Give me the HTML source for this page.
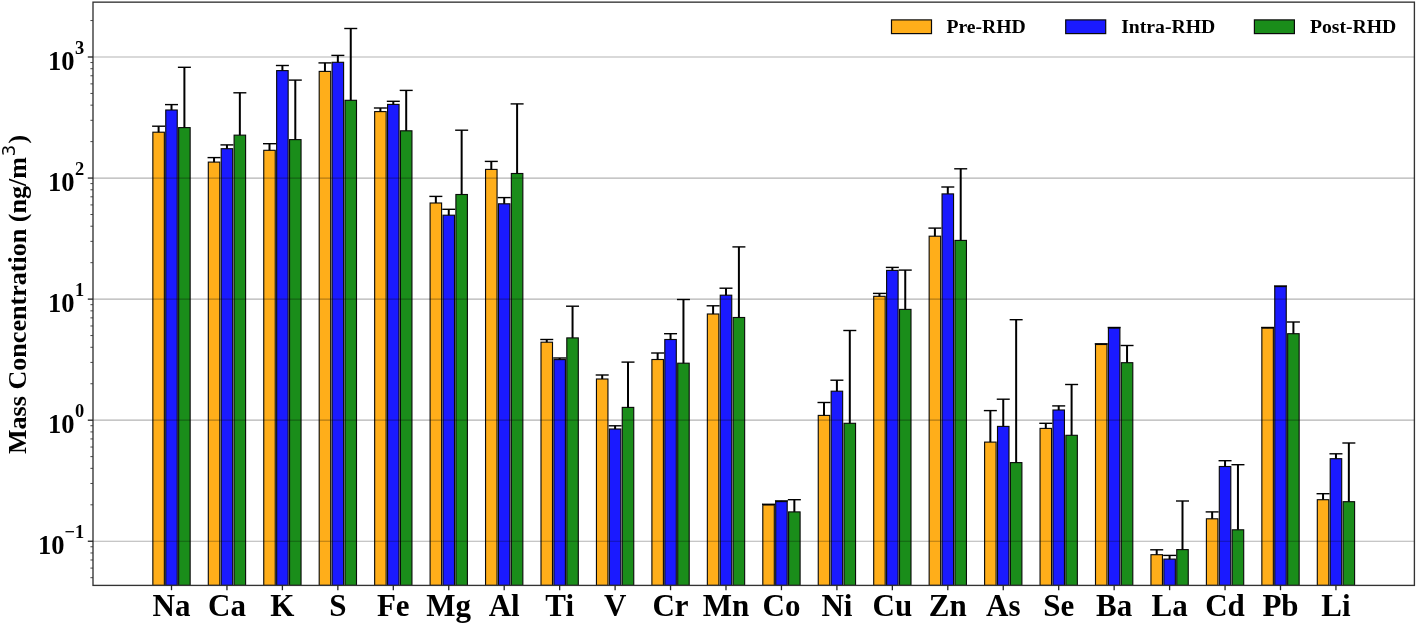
<!DOCTYPE html>
<html><head><meta charset="utf-8"><title>Mass Concentration</title>
<style>html,body{margin:0;padding:0;background:#fff;}svg{display:block;}</style></head>
<body>
<svg width="1416" height="624" viewBox="0 0 1416 624" font-family="'Liberation Serif', 'Times New Roman', serif" font-weight="bold" fill="#000">
<rect x="0" y="0" width="1416" height="624" fill="#fff"/>
<g stroke="#0a0a0a" stroke-width="1.12">
<rect x="152.85" y="132.20" width="11.5" height="453.20" fill="#FFAE1A"/>
<rect x="165.75" y="110.00" width="11.5" height="475.40" fill="#1A1AFF"/>
<rect x="178.65" y="127.60" width="11.5" height="457.80" fill="#1A8D1A"/>
<rect x="208.30" y="162.10" width="11.5" height="423.30" fill="#FFAE1A"/>
<rect x="221.20" y="148.70" width="11.5" height="436.70" fill="#1A1AFF"/>
<rect x="234.10" y="135.15" width="11.5" height="450.25" fill="#1A8D1A"/>
<rect x="263.75" y="150.30" width="11.5" height="435.10" fill="#FFAE1A"/>
<rect x="276.65" y="70.60" width="11.5" height="514.80" fill="#1A1AFF"/>
<rect x="289.55" y="139.60" width="11.5" height="445.80" fill="#1A8D1A"/>
<rect x="319.20" y="71.40" width="11.5" height="514.00" fill="#FFAE1A"/>
<rect x="332.10" y="62.30" width="11.5" height="523.10" fill="#1A1AFF"/>
<rect x="345.00" y="100.30" width="11.5" height="485.10" fill="#1A8D1A"/>
<rect x="374.65" y="111.60" width="11.5" height="473.80" fill="#FFAE1A"/>
<rect x="387.55" y="104.40" width="11.5" height="481.00" fill="#1A1AFF"/>
<rect x="400.45" y="130.80" width="11.5" height="454.60" fill="#1A8D1A"/>
<rect x="430.10" y="203.00" width="11.5" height="382.40" fill="#FFAE1A"/>
<rect x="443.00" y="215.20" width="11.5" height="370.20" fill="#1A1AFF"/>
<rect x="455.90" y="194.50" width="11.5" height="390.90" fill="#1A8D1A"/>
<rect x="485.55" y="169.40" width="11.5" height="416.00" fill="#FFAE1A"/>
<rect x="498.45" y="203.80" width="11.5" height="381.60" fill="#1A1AFF"/>
<rect x="511.35" y="173.50" width="11.5" height="411.90" fill="#1A8D1A"/>
<rect x="541.00" y="342.20" width="11.5" height="243.20" fill="#FFAE1A"/>
<rect x="553.90" y="359.60" width="11.5" height="225.80" fill="#1A1AFF"/>
<rect x="566.80" y="337.90" width="11.5" height="247.50" fill="#1A8D1A"/>
<rect x="596.45" y="379.00" width="11.5" height="206.40" fill="#FFAE1A"/>
<rect x="609.35" y="429.00" width="11.5" height="156.40" fill="#1A1AFF"/>
<rect x="622.25" y="407.40" width="11.5" height="178.00" fill="#1A8D1A"/>
<rect x="651.90" y="359.50" width="11.5" height="225.90" fill="#FFAE1A"/>
<rect x="664.80" y="339.50" width="11.5" height="245.90" fill="#1A1AFF"/>
<rect x="677.70" y="363.20" width="11.5" height="222.20" fill="#1A8D1A"/>
<rect x="707.35" y="314.00" width="11.5" height="271.40" fill="#FFAE1A"/>
<rect x="720.25" y="295.20" width="11.5" height="290.20" fill="#1A1AFF"/>
<rect x="733.15" y="317.50" width="11.5" height="267.90" fill="#1A8D1A"/>
<rect x="762.80" y="505.00" width="11.5" height="80.40" fill="#FFAE1A"/>
<rect x="775.70" y="501.60" width="11.5" height="83.80" fill="#1A1AFF"/>
<rect x="788.60" y="511.90" width="11.5" height="73.50" fill="#1A8D1A"/>
<rect x="818.25" y="415.40" width="11.5" height="170.00" fill="#FFAE1A"/>
<rect x="831.15" y="391.20" width="11.5" height="194.20" fill="#1A1AFF"/>
<rect x="844.05" y="423.30" width="11.5" height="162.10" fill="#1A8D1A"/>
<rect x="873.70" y="296.30" width="11.5" height="289.10" fill="#FFAE1A"/>
<rect x="886.60" y="270.40" width="11.5" height="315.00" fill="#1A1AFF"/>
<rect x="899.50" y="309.40" width="11.5" height="276.00" fill="#1A8D1A"/>
<rect x="929.15" y="236.20" width="11.5" height="349.20" fill="#FFAE1A"/>
<rect x="942.05" y="193.90" width="11.5" height="391.50" fill="#1A1AFF"/>
<rect x="954.95" y="240.40" width="11.5" height="345.00" fill="#1A8D1A"/>
<rect x="984.60" y="442.10" width="11.5" height="143.30" fill="#FFAE1A"/>
<rect x="997.50" y="426.40" width="11.5" height="159.00" fill="#1A1AFF"/>
<rect x="1010.40" y="462.60" width="11.5" height="122.80" fill="#1A8D1A"/>
<rect x="1040.05" y="428.40" width="11.5" height="157.00" fill="#FFAE1A"/>
<rect x="1052.95" y="410.00" width="11.5" height="175.40" fill="#1A1AFF"/>
<rect x="1065.85" y="435.30" width="11.5" height="150.10" fill="#1A8D1A"/>
<rect x="1095.50" y="344.50" width="11.5" height="240.90" fill="#FFAE1A"/>
<rect x="1108.40" y="328.10" width="11.5" height="257.30" fill="#1A1AFF"/>
<rect x="1121.30" y="362.70" width="11.5" height="222.70" fill="#1A8D1A"/>
<rect x="1150.95" y="554.70" width="11.5" height="30.70" fill="#FFAE1A"/>
<rect x="1163.85" y="559.10" width="11.5" height="26.30" fill="#1A1AFF"/>
<rect x="1176.75" y="549.60" width="11.5" height="35.80" fill="#1A8D1A"/>
<rect x="1206.40" y="518.80" width="11.5" height="66.60" fill="#FFAE1A"/>
<rect x="1219.30" y="466.50" width="11.5" height="118.90" fill="#1A1AFF"/>
<rect x="1232.20" y="529.80" width="11.5" height="55.60" fill="#1A8D1A"/>
<rect x="1261.85" y="328.10" width="11.5" height="257.30" fill="#FFAE1A"/>
<rect x="1274.75" y="286.60" width="11.5" height="298.80" fill="#1A1AFF"/>
<rect x="1287.65" y="333.70" width="11.5" height="251.70" fill="#1A8D1A"/>
<rect x="1317.30" y="499.70" width="11.5" height="85.70" fill="#FFAE1A"/>
<rect x="1330.20" y="458.70" width="11.5" height="126.70" fill="#1A1AFF"/>
<rect x="1343.10" y="501.70" width="11.5" height="83.70" fill="#1A8D1A"/>
</g>
<g stroke="#000" fill="none">
<line x1="158.60" y1="132.20" x2="158.60" y2="126.20" stroke-width="2"/>
<line x1="152.10" y1="126.20" x2="165.10" y2="126.20" stroke-width="1.4"/>
<line x1="171.50" y1="110.00" x2="171.50" y2="104.60" stroke-width="2"/>
<line x1="165.00" y1="104.60" x2="178.00" y2="104.60" stroke-width="1.4"/>
<line x1="184.40" y1="127.60" x2="184.40" y2="67.30" stroke-width="2"/>
<line x1="177.90" y1="67.30" x2="190.90" y2="67.30" stroke-width="1.4"/>
<line x1="214.05" y1="162.10" x2="214.05" y2="157.60" stroke-width="2"/>
<line x1="207.55" y1="157.60" x2="220.55" y2="157.60" stroke-width="1.4"/>
<line x1="226.95" y1="148.70" x2="226.95" y2="144.90" stroke-width="2"/>
<line x1="220.45" y1="144.90" x2="233.45" y2="144.90" stroke-width="1.4"/>
<line x1="239.85" y1="135.15" x2="239.85" y2="92.80" stroke-width="2"/>
<line x1="233.35" y1="92.80" x2="246.35" y2="92.80" stroke-width="1.4"/>
<line x1="269.50" y1="150.30" x2="269.50" y2="143.70" stroke-width="2"/>
<line x1="263.00" y1="143.70" x2="276.00" y2="143.70" stroke-width="1.4"/>
<line x1="282.40" y1="70.60" x2="282.40" y2="65.50" stroke-width="2"/>
<line x1="275.90" y1="65.50" x2="288.90" y2="65.50" stroke-width="1.4"/>
<line x1="295.30" y1="139.60" x2="295.30" y2="80.10" stroke-width="2"/>
<line x1="288.80" y1="80.10" x2="301.80" y2="80.10" stroke-width="1.4"/>
<line x1="324.95" y1="71.40" x2="324.95" y2="62.90" stroke-width="2"/>
<line x1="318.45" y1="62.90" x2="331.45" y2="62.90" stroke-width="1.4"/>
<line x1="337.85" y1="62.30" x2="337.85" y2="55.40" stroke-width="2"/>
<line x1="331.35" y1="55.40" x2="344.35" y2="55.40" stroke-width="1.4"/>
<line x1="350.75" y1="100.30" x2="350.75" y2="28.50" stroke-width="2"/>
<line x1="344.25" y1="28.50" x2="357.25" y2="28.50" stroke-width="1.4"/>
<line x1="380.40" y1="111.60" x2="380.40" y2="108.00" stroke-width="2"/>
<line x1="373.90" y1="108.00" x2="386.90" y2="108.00" stroke-width="1.4"/>
<line x1="393.30" y1="104.40" x2="393.30" y2="101.30" stroke-width="2"/>
<line x1="386.80" y1="101.30" x2="399.80" y2="101.30" stroke-width="1.4"/>
<line x1="406.20" y1="130.80" x2="406.20" y2="90.40" stroke-width="2"/>
<line x1="399.70" y1="90.40" x2="412.70" y2="90.40" stroke-width="1.4"/>
<line x1="435.85" y1="203.00" x2="435.85" y2="196.40" stroke-width="2"/>
<line x1="429.35" y1="196.40" x2="442.35" y2="196.40" stroke-width="1.4"/>
<line x1="448.75" y1="215.20" x2="448.75" y2="209.30" stroke-width="2"/>
<line x1="442.25" y1="209.30" x2="455.25" y2="209.30" stroke-width="1.4"/>
<line x1="461.65" y1="194.50" x2="461.65" y2="130.20" stroke-width="2"/>
<line x1="455.15" y1="130.20" x2="468.15" y2="130.20" stroke-width="1.4"/>
<line x1="491.30" y1="169.40" x2="491.30" y2="161.40" stroke-width="2"/>
<line x1="484.80" y1="161.40" x2="497.80" y2="161.40" stroke-width="1.4"/>
<line x1="504.20" y1="203.80" x2="504.20" y2="197.60" stroke-width="2"/>
<line x1="497.70" y1="197.60" x2="510.70" y2="197.60" stroke-width="1.4"/>
<line x1="517.10" y1="173.50" x2="517.10" y2="103.90" stroke-width="2"/>
<line x1="510.60" y1="103.90" x2="523.60" y2="103.90" stroke-width="1.4"/>
<line x1="546.75" y1="342.20" x2="546.75" y2="339.50" stroke-width="2"/>
<line x1="540.25" y1="339.50" x2="553.25" y2="339.50" stroke-width="1.4"/>
<line x1="559.65" y1="359.60" x2="559.65" y2="358.00" stroke-width="2"/>
<line x1="553.15" y1="358.00" x2="566.15" y2="358.00" stroke-width="1.4"/>
<line x1="572.55" y1="337.90" x2="572.55" y2="306.20" stroke-width="2"/>
<line x1="566.05" y1="306.20" x2="579.05" y2="306.20" stroke-width="1.4"/>
<line x1="602.20" y1="379.00" x2="602.20" y2="375.00" stroke-width="2"/>
<line x1="595.70" y1="375.00" x2="608.70" y2="375.00" stroke-width="1.4"/>
<line x1="615.10" y1="429.00" x2="615.10" y2="425.80" stroke-width="2"/>
<line x1="608.60" y1="425.80" x2="621.60" y2="425.80" stroke-width="1.4"/>
<line x1="628.00" y1="407.40" x2="628.00" y2="362.10" stroke-width="2"/>
<line x1="621.50" y1="362.10" x2="634.50" y2="362.10" stroke-width="1.4"/>
<line x1="657.65" y1="359.50" x2="657.65" y2="353.00" stroke-width="2"/>
<line x1="651.15" y1="353.00" x2="664.15" y2="353.00" stroke-width="1.4"/>
<line x1="670.55" y1="339.50" x2="670.55" y2="333.70" stroke-width="2"/>
<line x1="664.05" y1="333.70" x2="677.05" y2="333.70" stroke-width="1.4"/>
<line x1="683.45" y1="363.20" x2="683.45" y2="299.50" stroke-width="2"/>
<line x1="676.95" y1="299.50" x2="689.95" y2="299.50" stroke-width="1.4"/>
<line x1="713.10" y1="314.00" x2="713.10" y2="305.80" stroke-width="2"/>
<line x1="706.60" y1="305.80" x2="719.60" y2="305.80" stroke-width="1.4"/>
<line x1="726.00" y1="295.20" x2="726.00" y2="288.20" stroke-width="2"/>
<line x1="719.50" y1="288.20" x2="732.50" y2="288.20" stroke-width="1.4"/>
<line x1="738.90" y1="317.50" x2="738.90" y2="246.90" stroke-width="2"/>
<line x1="732.40" y1="246.90" x2="745.40" y2="246.90" stroke-width="1.4"/>
<line x1="768.55" y1="505.00" x2="768.55" y2="504.30" stroke-width="2"/>
<line x1="762.05" y1="504.30" x2="775.05" y2="504.30" stroke-width="1.4"/>
<line x1="781.45" y1="501.60" x2="781.45" y2="500.90" stroke-width="2"/>
<line x1="774.95" y1="500.90" x2="787.95" y2="500.90" stroke-width="1.4"/>
<line x1="794.35" y1="511.90" x2="794.35" y2="499.70" stroke-width="2"/>
<line x1="787.85" y1="499.70" x2="800.85" y2="499.70" stroke-width="1.4"/>
<line x1="824.00" y1="415.40" x2="824.00" y2="402.50" stroke-width="2"/>
<line x1="817.50" y1="402.50" x2="830.50" y2="402.50" stroke-width="1.4"/>
<line x1="836.90" y1="391.20" x2="836.90" y2="380.20" stroke-width="2"/>
<line x1="830.40" y1="380.20" x2="843.40" y2="380.20" stroke-width="1.4"/>
<line x1="849.80" y1="423.30" x2="849.80" y2="330.50" stroke-width="2"/>
<line x1="843.30" y1="330.50" x2="856.30" y2="330.50" stroke-width="1.4"/>
<line x1="879.45" y1="296.30" x2="879.45" y2="293.40" stroke-width="2"/>
<line x1="872.95" y1="293.40" x2="885.95" y2="293.40" stroke-width="1.4"/>
<line x1="892.35" y1="270.40" x2="892.35" y2="267.40" stroke-width="2"/>
<line x1="885.85" y1="267.40" x2="898.85" y2="267.40" stroke-width="1.4"/>
<line x1="905.25" y1="309.40" x2="905.25" y2="270.10" stroke-width="2"/>
<line x1="898.75" y1="270.10" x2="911.75" y2="270.10" stroke-width="1.4"/>
<line x1="934.90" y1="236.20" x2="934.90" y2="228.10" stroke-width="2"/>
<line x1="928.40" y1="228.10" x2="941.40" y2="228.10" stroke-width="1.4"/>
<line x1="947.80" y1="193.90" x2="947.80" y2="187.00" stroke-width="2"/>
<line x1="941.30" y1="187.00" x2="954.30" y2="187.00" stroke-width="1.4"/>
<line x1="960.70" y1="240.40" x2="960.70" y2="168.80" stroke-width="2"/>
<line x1="954.20" y1="168.80" x2="967.20" y2="168.80" stroke-width="1.4"/>
<line x1="990.35" y1="442.10" x2="990.35" y2="410.60" stroke-width="2"/>
<line x1="983.85" y1="410.60" x2="996.85" y2="410.60" stroke-width="1.4"/>
<line x1="1003.25" y1="426.40" x2="1003.25" y2="399.20" stroke-width="2"/>
<line x1="996.75" y1="399.20" x2="1009.75" y2="399.20" stroke-width="1.4"/>
<line x1="1016.15" y1="462.60" x2="1016.15" y2="319.70" stroke-width="2"/>
<line x1="1009.65" y1="319.70" x2="1022.65" y2="319.70" stroke-width="1.4"/>
<line x1="1045.80" y1="428.40" x2="1045.80" y2="423.30" stroke-width="2"/>
<line x1="1039.30" y1="423.30" x2="1052.30" y2="423.30" stroke-width="1.4"/>
<line x1="1058.70" y1="410.00" x2="1058.70" y2="405.90" stroke-width="2"/>
<line x1="1052.20" y1="405.90" x2="1065.20" y2="405.90" stroke-width="1.4"/>
<line x1="1071.60" y1="435.30" x2="1071.60" y2="384.50" stroke-width="2"/>
<line x1="1065.10" y1="384.50" x2="1078.10" y2="384.50" stroke-width="1.4"/>
<line x1="1101.25" y1="344.50" x2="1101.25" y2="343.80" stroke-width="2"/>
<line x1="1094.75" y1="343.80" x2="1107.75" y2="343.80" stroke-width="1.4"/>
<line x1="1114.15" y1="328.10" x2="1114.15" y2="327.50" stroke-width="2"/>
<line x1="1107.65" y1="327.50" x2="1120.65" y2="327.50" stroke-width="1.4"/>
<line x1="1127.05" y1="362.70" x2="1127.05" y2="345.50" stroke-width="2"/>
<line x1="1120.55" y1="345.50" x2="1133.55" y2="345.50" stroke-width="1.4"/>
<line x1="1156.70" y1="554.70" x2="1156.70" y2="549.80" stroke-width="2"/>
<line x1="1150.20" y1="549.80" x2="1163.20" y2="549.80" stroke-width="1.4"/>
<line x1="1169.60" y1="559.10" x2="1169.60" y2="555.40" stroke-width="2"/>
<line x1="1163.10" y1="555.40" x2="1176.10" y2="555.40" stroke-width="1.4"/>
<line x1="1182.50" y1="549.60" x2="1182.50" y2="501.00" stroke-width="2"/>
<line x1="1176.00" y1="501.00" x2="1189.00" y2="501.00" stroke-width="1.4"/>
<line x1="1212.15" y1="518.80" x2="1212.15" y2="511.90" stroke-width="2"/>
<line x1="1205.65" y1="511.90" x2="1218.65" y2="511.90" stroke-width="1.4"/>
<line x1="1225.05" y1="466.50" x2="1225.05" y2="460.70" stroke-width="2"/>
<line x1="1218.55" y1="460.70" x2="1231.55" y2="460.70" stroke-width="1.4"/>
<line x1="1237.95" y1="529.80" x2="1237.95" y2="464.70" stroke-width="2"/>
<line x1="1231.45" y1="464.70" x2="1244.45" y2="464.70" stroke-width="1.4"/>
<line x1="1267.60" y1="328.10" x2="1267.60" y2="327.50" stroke-width="2"/>
<line x1="1261.10" y1="327.50" x2="1274.10" y2="327.50" stroke-width="1.4"/>
<line x1="1280.50" y1="286.60" x2="1280.50" y2="286.00" stroke-width="2"/>
<line x1="1274.00" y1="286.00" x2="1287.00" y2="286.00" stroke-width="1.4"/>
<line x1="1293.40" y1="333.70" x2="1293.40" y2="322.00" stroke-width="2"/>
<line x1="1286.90" y1="322.00" x2="1299.90" y2="322.00" stroke-width="1.4"/>
<line x1="1323.05" y1="499.70" x2="1323.05" y2="493.70" stroke-width="2"/>
<line x1="1316.55" y1="493.70" x2="1329.55" y2="493.70" stroke-width="1.4"/>
<line x1="1335.95" y1="458.70" x2="1335.95" y2="453.80" stroke-width="2"/>
<line x1="1329.45" y1="453.80" x2="1342.45" y2="453.80" stroke-width="1.4"/>
<line x1="1348.85" y1="501.70" x2="1348.85" y2="443.00" stroke-width="2"/>
<line x1="1342.35" y1="443.00" x2="1355.35" y2="443.00" stroke-width="1.4"/>
</g>
<g stroke="#000" stroke-opacity="0.3" stroke-width="1.2">
<line x1="93.0" y1="57.00" x2="1414.4" y2="57.00"/>
<line x1="93.0" y1="178.06" x2="1414.4" y2="178.06"/>
<line x1="93.0" y1="299.12" x2="1414.4" y2="299.12"/>
<line x1="93.0" y1="420.18" x2="1414.4" y2="420.18"/>
<line x1="93.0" y1="541.24" x2="1414.4" y2="541.24"/>
</g>
<rect x="93.0" y="2.15" width="1321.40" height="583.25" fill="none" stroke="#333" stroke-width="1.35"/>
<g stroke="#222" stroke-width="1.3">
<line x1="87.8" y1="57.00" x2="93.0" y2="57.00"/>
<line x1="87.8" y1="178.06" x2="93.0" y2="178.06"/>
<line x1="87.8" y1="299.12" x2="93.0" y2="299.12"/>
<line x1="87.8" y1="420.18" x2="93.0" y2="420.18"/>
<line x1="87.8" y1="541.24" x2="93.0" y2="541.24"/>
</g><g stroke="#333" stroke-width="0.9">
<line x1="90.4" y1="20.56" x2="93.0" y2="20.56"/>
<line x1="90.4" y1="141.62" x2="93.0" y2="141.62"/>
<line x1="90.4" y1="120.30" x2="93.0" y2="120.30"/>
<line x1="90.4" y1="105.17" x2="93.0" y2="105.17"/>
<line x1="90.4" y1="93.44" x2="93.0" y2="93.44"/>
<line x1="90.4" y1="83.86" x2="93.0" y2="83.86"/>
<line x1="90.4" y1="75.75" x2="93.0" y2="75.75"/>
<line x1="90.4" y1="68.73" x2="93.0" y2="68.73"/>
<line x1="90.4" y1="62.54" x2="93.0" y2="62.54"/>
<line x1="90.4" y1="262.68" x2="93.0" y2="262.68"/>
<line x1="90.4" y1="241.36" x2="93.0" y2="241.36"/>
<line x1="90.4" y1="226.23" x2="93.0" y2="226.23"/>
<line x1="90.4" y1="214.50" x2="93.0" y2="214.50"/>
<line x1="90.4" y1="204.92" x2="93.0" y2="204.92"/>
<line x1="90.4" y1="196.81" x2="93.0" y2="196.81"/>
<line x1="90.4" y1="189.79" x2="93.0" y2="189.79"/>
<line x1="90.4" y1="183.60" x2="93.0" y2="183.60"/>
<line x1="90.4" y1="383.74" x2="93.0" y2="383.74"/>
<line x1="90.4" y1="362.42" x2="93.0" y2="362.42"/>
<line x1="90.4" y1="347.29" x2="93.0" y2="347.29"/>
<line x1="90.4" y1="335.56" x2="93.0" y2="335.56"/>
<line x1="90.4" y1="325.98" x2="93.0" y2="325.98"/>
<line x1="90.4" y1="317.87" x2="93.0" y2="317.87"/>
<line x1="90.4" y1="310.85" x2="93.0" y2="310.85"/>
<line x1="90.4" y1="304.66" x2="93.0" y2="304.66"/>
<line x1="90.4" y1="504.80" x2="93.0" y2="504.80"/>
<line x1="90.4" y1="483.48" x2="93.0" y2="483.48"/>
<line x1="90.4" y1="468.35" x2="93.0" y2="468.35"/>
<line x1="90.4" y1="456.62" x2="93.0" y2="456.62"/>
<line x1="90.4" y1="447.04" x2="93.0" y2="447.04"/>
<line x1="90.4" y1="438.93" x2="93.0" y2="438.93"/>
<line x1="90.4" y1="431.91" x2="93.0" y2="431.91"/>
<line x1="90.4" y1="425.72" x2="93.0" y2="425.72"/>
<line x1="90.4" y1="577.68" x2="93.0" y2="577.68"/>
<line x1="90.4" y1="568.10" x2="93.0" y2="568.10"/>
<line x1="90.4" y1="559.99" x2="93.0" y2="559.99"/>
<line x1="90.4" y1="552.97" x2="93.0" y2="552.97"/>
<line x1="90.4" y1="546.78" x2="93.0" y2="546.78"/>
</g><g stroke="#222" stroke-width="1.3">
<line x1="171.50" y1="585.4" x2="171.50" y2="590.1999999999999"/>
<line x1="226.95" y1="585.4" x2="226.95" y2="590.1999999999999"/>
<line x1="282.40" y1="585.4" x2="282.40" y2="590.1999999999999"/>
<line x1="337.85" y1="585.4" x2="337.85" y2="590.1999999999999"/>
<line x1="393.30" y1="585.4" x2="393.30" y2="590.1999999999999"/>
<line x1="448.75" y1="585.4" x2="448.75" y2="590.1999999999999"/>
<line x1="504.20" y1="585.4" x2="504.20" y2="590.1999999999999"/>
<line x1="559.65" y1="585.4" x2="559.65" y2="590.1999999999999"/>
<line x1="615.10" y1="585.4" x2="615.10" y2="590.1999999999999"/>
<line x1="670.55" y1="585.4" x2="670.55" y2="590.1999999999999"/>
<line x1="726.00" y1="585.4" x2="726.00" y2="590.1999999999999"/>
<line x1="781.45" y1="585.4" x2="781.45" y2="590.1999999999999"/>
<line x1="836.90" y1="585.4" x2="836.90" y2="590.1999999999999"/>
<line x1="892.35" y1="585.4" x2="892.35" y2="590.1999999999999"/>
<line x1="947.80" y1="585.4" x2="947.80" y2="590.1999999999999"/>
<line x1="1003.25" y1="585.4" x2="1003.25" y2="590.1999999999999"/>
<line x1="1058.70" y1="585.4" x2="1058.70" y2="590.1999999999999"/>
<line x1="1114.15" y1="585.4" x2="1114.15" y2="590.1999999999999"/>
<line x1="1169.60" y1="585.4" x2="1169.60" y2="590.1999999999999"/>
<line x1="1225.05" y1="585.4" x2="1225.05" y2="590.1999999999999"/>
<line x1="1280.50" y1="585.4" x2="1280.50" y2="590.1999999999999"/>
<line x1="1335.95" y1="585.4" x2="1335.95" y2="590.1999999999999"/>
</g>
<text x="74.6" y="69.60" font-size="26.5" text-anchor="end">10</text>
<text x="75" y="53.80" font-size="18.4">3</text>
<text x="74.6" y="190.66" font-size="26.5" text-anchor="end">10</text>
<text x="75" y="174.86" font-size="18.4">2</text>
<text x="74.6" y="311.72" font-size="26.5" text-anchor="end">10</text>
<text x="75" y="295.92" font-size="18.4">1</text>
<text x="74.6" y="432.78" font-size="26.5" text-anchor="end">10</text>
<text x="75" y="416.98" font-size="18.4">0</text>
<text x="64.6" y="553.84" font-size="26.5" text-anchor="end">10</text>
<text x="64.6" y="538.04" font-size="18.4">−1</text>
<text x="171.50" y="616" font-size="31" text-anchor="middle">Na</text>
<text x="226.95" y="616" font-size="31" text-anchor="middle">Ca</text>
<text x="282.40" y="616" font-size="31" text-anchor="middle">K</text>
<text x="337.85" y="616" font-size="31" text-anchor="middle">S</text>
<text x="393.30" y="616" font-size="31" text-anchor="middle">Fe</text>
<text x="448.75" y="616" font-size="31" text-anchor="middle">Mg</text>
<text x="504.20" y="616" font-size="31" text-anchor="middle">Al</text>
<text x="559.65" y="616" font-size="31" text-anchor="middle">Ti</text>
<text x="615.10" y="616" font-size="31" text-anchor="middle">V</text>
<text x="670.55" y="616" font-size="31" text-anchor="middle">Cr</text>
<text x="726.00" y="616" font-size="31" text-anchor="middle">Mn</text>
<text x="781.45" y="616" font-size="31" text-anchor="middle">Co</text>
<text x="836.90" y="616" font-size="31" text-anchor="middle">Ni</text>
<text x="892.35" y="616" font-size="31" text-anchor="middle">Cu</text>
<text x="947.80" y="616" font-size="31" text-anchor="middle">Zn</text>
<text x="1003.25" y="616" font-size="31" text-anchor="middle">As</text>
<text x="1058.70" y="616" font-size="31" text-anchor="middle">Se</text>
<text x="1114.15" y="616" font-size="31" text-anchor="middle">Ba</text>
<text x="1169.60" y="616" font-size="31" text-anchor="middle">La</text>
<text x="1225.05" y="616" font-size="31" text-anchor="middle">Cd</text>
<text x="1280.50" y="616" font-size="31" text-anchor="middle">Pb</text>
<text x="1335.95" y="616" font-size="31" text-anchor="middle">Li</text>
<text transform="translate(26.2,294.4) rotate(-90)" font-size="26.1" text-anchor="middle">Mass Concentration (ng/m<tspan font-family="DejaVu Sans, sans-serif" font-weight="normal" font-size="18" dx="0.7" dy="-11.1">3</tspan><tspan dx="1.3" dy="11.1">)</tspan></text>
<rect x="891.5" y="19.9" width="40" height="13.7" fill="#FFAE1A" stroke="#0a0a0a" stroke-width="1.2"/>
<text x="946.4" y="33.2" font-size="19.7">Pre-RHD</text>
<rect x="1065.7" y="19.9" width="40" height="13.7" fill="#1A1AFF" stroke="#0a0a0a" stroke-width="1.2"/>
<text x="1121.2" y="33.2" font-size="19.7">Intra-RHD</text>
<rect x="1254.4" y="19.9" width="40" height="13.7" fill="#1A8D1A" stroke="#0a0a0a" stroke-width="1.2"/>
<text x="1309.9" y="33.2" font-size="19.7">Post-RHD</text>
</svg>
</body></html>
